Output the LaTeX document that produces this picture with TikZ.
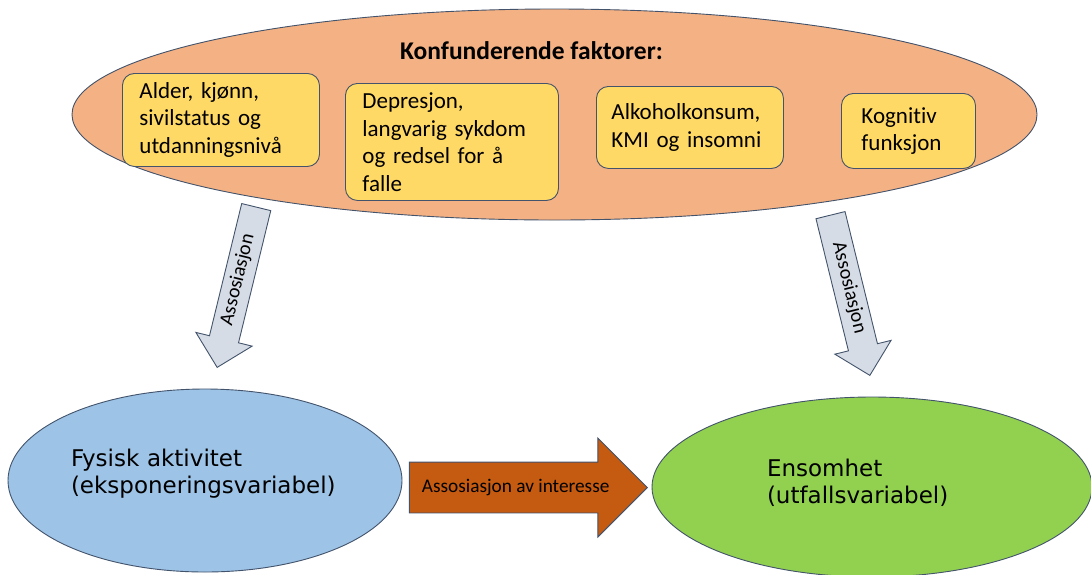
\documentclass[tikz,border=0pt]{standalone}
\usepackage{fontspec}
\setmainfont{Carlito}[Ligatures=CommonOff]
\newfontfamily\dejavu{DejaVu Sans}
\usetikzlibrary{shapes.geometric, shapes.arrows}

\definecolor{konfFill}{HTML}{F4B183}
\definecolor{boksFill}{HTML}{FFD966}
\definecolor{kant}{HTML}{42536B}
\definecolor{fysFill}{HTML}{9DC3E6}
\definecolor{ensFill}{HTML}{92D050}
\definecolor{pilFill}{HTML}{D6DCE5}
\definecolor{brun}{HTML}{C55A11}

\begin{document}
\begin{tikzpicture}[x=1pt, y=-1pt, line width=0.9pt,
    faktor/.style={draw=kant, fill=boksFill, rounded corners=12pt, anchor=north west, align=left,
        inner xsep=17pt, inner ysep=0pt, font=\fontsize{23}{27.5}\selectfont},
    variabel/.style={ellipse, draw=kant, fill=#1, inner sep=0pt, align=left,
        font=\dejavu\fontsize{23}{27}\selectfont},
    assoc/.style={single arrow, draw=kant, fill=pilFill, minimum height=165pt,
        single arrow head extend=14pt, inner xsep=2pt, inner ysep=5pt, text height=14pt, text depth=5pt,
        anchor=tip, font=\fontsize{20}{24}\selectfont}]
    \useasboundingbox (0,0) rectangle (1091,574);

    % konfunderende faktorer
    \node[ellipse, draw=kant, fill=konfFill, minimum width=965pt, minimum height=211pt] (konf) at (554.5,114.5) {};
    \node[font=\bfseries\fontsize{25.5}{30}\selectfont, anchor=base] (tittel) at (531.5,59) {Konfunderende faktorer:};

    \node[faktor, text width=163pt, minimum height=93pt] (f1) at (122,73) {Alder, kjønn,\\ sivilstatus og\\ utdanningsnivå};
    \node[faktor, text width=179pt, minimum height=117pt] (f2) at (345,83) {Depresjon,\\ langvarig sykdom\\ og redsel for å\\ falle};
    \node[faktor, inner xsep=15pt, text width=157pt, minimum height=82pt] (f3) at (596,86) {Alkoholkonsum,\\ KMI og insomni};
    \node[faktor, inner xsep=20pt, text width=94pt, minimum height=75pt] (f4) at (841,93) {Kognitiv\\ funksjon};

    % eksponering og utfall
    \node[variabel=fysFill, minimum width=394pt, minimum height=183pt, text width=268pt,
        text height=10.5pt, text depth=39.5pt] (fysisk) at (205,480.5) {Fysisk aktivitet\\ (eksponeringsvariabel)};
    \node[variabel=ensFill, minimum width=440pt, minimum height=180pt, text width=210pt,
        text height=14pt, text depth=36pt] (ensomhet) at (872,487) {Ensomhet\\ (utfallsvariabel)};

    % assosiasjoner
    \node[assoc, rotate=76.3, shape border rotate=180] (venstre) at (217,368) {Assosiasjon};
    \node[assoc, rotate=-76.2] (hoyre) at (870,376) {Assosiasjon};
    \node[assoc, fill=brun, minimum height=238pt, inner ysep=15.5pt, single arrow head extend=24pt,
        font=\fontsize{19.3}{23}\selectfont] (interesse) at (648,487.5) {Assosiasjon av interesse};
\end{tikzpicture}
\end{document}
